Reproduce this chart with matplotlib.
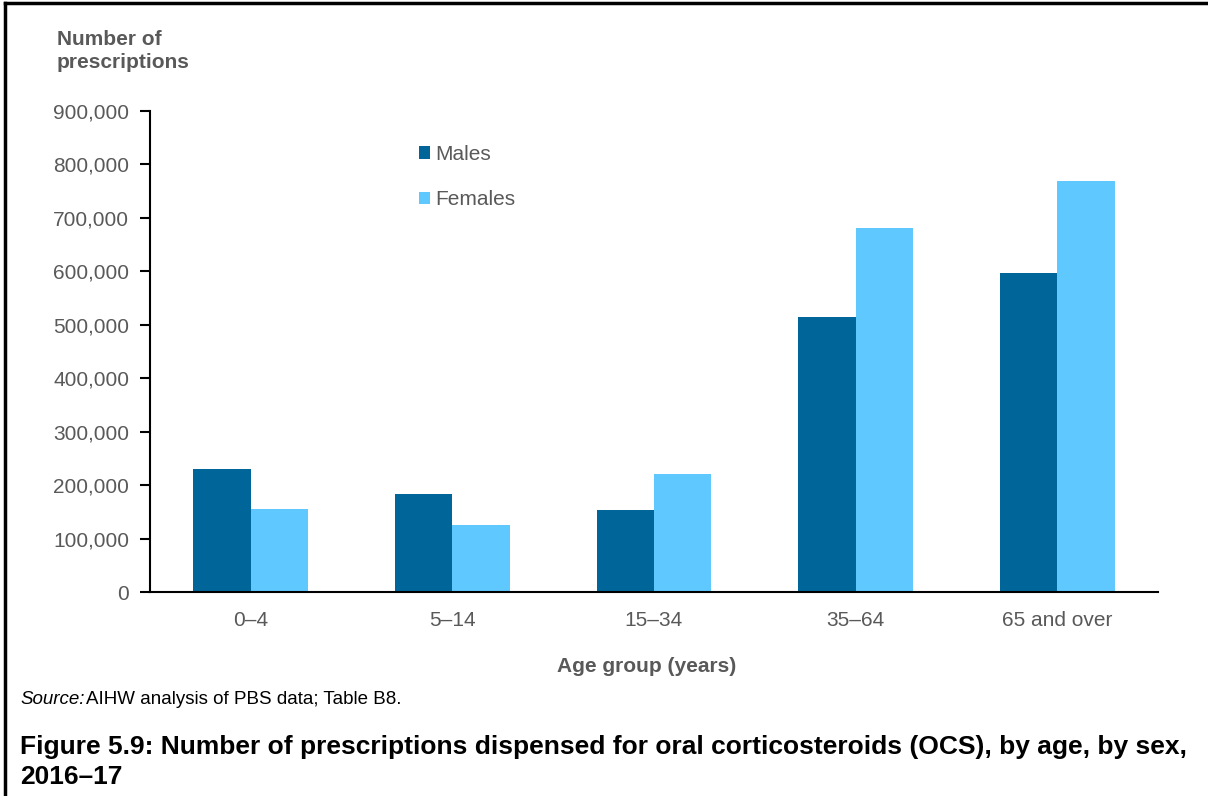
"""Number of OCS prescriptions by age group and sex, 2016-17."""
import matplotlib
matplotlib.use("Agg")
import matplotlib.pyplot as plt
import numpy as np
from matplotlib.lines import Line2D

plt.rcParams["font.family"] = ["Liberation Sans", "DejaVu Sans"]

age_groups = ["0–4", "5–14", "15–34", "35–64", "65 and over"]
males = [230000, 184000, 153000, 515000, 596000]
females = [155000, 125000, 220000, 681000, 769000]

C_M = "#006699"
C_F = "#5EC8FF"
GREY = "#595959"

fig = plt.figure(figsize=(12.08, 7.96), dpi=100)
ax = fig.add_axes([150 / 1208, 1 - 592 / 796, 1008 / 1208, 481 / 796])

x = np.arange(len(age_groups))
w = 0.285
ax.bar(x - w / 2, males, w, color=C_M, label="Males")
ax.bar(x + w / 2, females, w, color=C_F, label="Females")

ax.set_xlim(-0.5, len(age_groups) - 0.5)
ax.set_ylim(0, 900000)
ax.set_yticks(np.arange(0, 900001, 100000))
ax.set_yticklabels([f"{v:,}" for v in range(0, 900001, 100000)])
ax.set_xticks(x)
ax.set_xticklabels(age_groups)
ax.tick_params(axis="y", labelsize=15, labelcolor=GREY, length=7, width=1.5, color="black", pad=8)
ax.tick_params(axis="x", labelsize=15, labelcolor=GREY, length=0, pad=14)
for s in ["top", "right"]:
    ax.spines[s].set_visible(False)
ax.spines["left"].set_linewidth(1.5)
ax.spines["bottom"].set_linewidth(1.5)

ax.legend(loc="upper left", bbox_to_anchor=(250 / 1008, 0.968), frameon=False,
          fontsize=15, labelcolor=GREY, handlelength=0.55, handleheight=0.55,
          handletextpad=0.25, labelspacing=1.25)

fig.text(57 / 1208, 1 - 51 / 796, "Number of\nprescriptions", fontsize=15, fontweight="bold",
         color=GREY, ha="left", va="center", linespacing=1.3)
fig.text(647 / 1208, 1 - 666 / 796, "Age group (years)", fontsize=15, fontweight="bold",
         color=GREY, ha="center", va="center")
fig.text(20 / 1208, 1 - 700 / 796, "Source:", fontsize=13.5, style="italic", ha="left", va="center")
fig.text(86 / 1208, 1 - 700 / 796, "AIHW analysis of PBS data; Table B8.", fontsize=13.5,
         ha="left", va="center")
fig.text(20 / 1208, 1 - 762 / 796,
         "Figure 5.9: Number of prescriptions dispensed for oral corticosteroids (OCS), by age, by sex,\n2016–17",
         fontsize=19, fontweight="bold", ha="left", va="center", linespacing=1.35)

# frame lines at top and left
fig.add_artist(Line2D([5 / 1208, 5 / 1208], [0, 1 - 3 / 796], transform=fig.transFigure, color="black", lw=2.5))
fig.add_artist(Line2D([5 / 1208, 1], [1 - 3 / 796, 1 - 3 / 796], transform=fig.transFigure, color="black", lw=2.5))

fig.savefig("out.png", dpi=100)
